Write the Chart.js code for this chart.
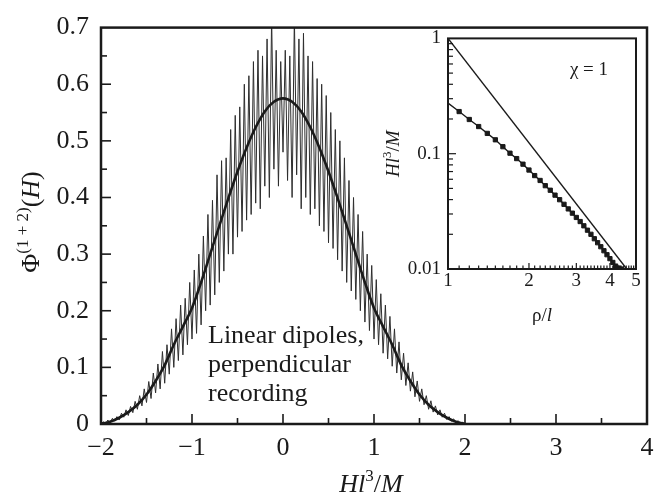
<!DOCTYPE html>
<html>
<head>
<meta charset="utf-8">
<script src="https://cdn.jsdelivr.net/npm/chart.js@4.4.1/dist/chart.umd.min.js"></script>
<style>
  body { margin: 0; background: #fff; }
  #wrap { position: relative; width: 669px; height: 497px; }
  #main { position: absolute; left: 0; top: 0; }
  #inset { position: absolute; left: 370px; top: 20px; }
</style>
</head>
<body>
<div id="wrap">
  <canvas id="main" width="669" height="497"></canvas>
  <canvas id="inset" width="290" height="310"></canvas>
</div>
<script>
// ---- main panel: Phi(1+2)(H) against H l^3 / M ----
const smoothH = [-2, -1.9, -1.8, -1.7, -1.6, -1.5, -1.4, -1.3, -1.2, -1.1, -1,
  -0.9, -0.8, -0.7, -0.6, -0.5, -0.4, -0.3, -0.2, -0.1, 0,
  0.1, 0.2, 0.3, 0.4, 0.5, 0.6, 0.7, 0.8, 0.9, 1,
  1.1, 1.2, 1.3, 1.4, 1.5, 1.6, 1.7, 1.8, 1.9, 2];
const smoothPhi = [0, 0.004, 0.011, 0.021, 0.034, 0.052, 0.076, 0.104, 0.140, 0.172, 0.205,
  0.250, 0.300, 0.350, 0.399, 0.446, 0.488, 0.524, 0.552, 0.569, 0.575,
  0.569, 0.552, 0.524, 0.488, 0.446, 0.399, 0.350, 0.300, 0.250, 0.205,
  0.172, 0.140, 0.104, 0.076, 0.052, 0.034, 0.021, 0.011, 0.004, 0];

// noisy simulated curve, sampled every 0.025 from H = -2
const noisyStart = -2;
const noisyStep = 0.025;
const noisyPhi = [
  0, 0.004, 0.000, 0.007, 0.002, 0.010, 0.005, 0.013, 0.007, 0.019,
  0.012, 0.025, 0.015, 0.031, 0.020, 0.040, 0.026, 0.050, 0.032, 0.062,
  0.038, 0.075, 0.045, 0.090, 0.055, 0.106, 0.062, 0.128, 0.072, 0.140,
  0.088, 0.168, 0.100, 0.186, 0.112, 0.210, 0.122, 0.222, 0.140, 0.250,
  0.150, 0.272, 0.160, 0.300, 0.175, 0.332, 0.200, 0.370, 0.210, 0.395,
  0.228, 0.440, 0.250, 0.465, 0.270, 0.470, 0.300, 0.520, 0.300, 0.545,
  0.330, 0.560, 0.340, 0.600, 0.360, 0.615, 0.370, 0.640, 0.390, 0.660,
  0.380, 0.650, 0.420, 0.680, 0.400, 0.720, 0.450, 0.660, 0.420, 0.640,
  0.480,
  0.660, 0.430, 0.650, 0.400, 0.720, 0.440, 0.680, 0.380, 0.690, 0.400,
  0.650, 0.370, 0.640, 0.380, 0.610, 0.350, 0.600, 0.340, 0.580, 0.320,
  0.550, 0.310, 0.520, 0.290, 0.500, 0.270, 0.470, 0.250, 0.430, 0.235,
  0.400, 0.220, 0.370, 0.200, 0.340, 0.180, 0.300, 0.165, 0.280, 0.150,
  0.255, 0.140, 0.230, 0.125, 0.210, 0.115, 0.190, 0.102, 0.168, 0.090,
  0.145, 0.078, 0.125, 0.068, 0.108, 0.058, 0.092, 0.048, 0.076, 0.040,
  0.062, 0.034, 0.050, 0.026, 0.041, 0.021, 0.032, 0.016, 0.025, 0.012,
  0.019, 0.008, 0.013, 0.005, 0.009, 0.002, 0.006, 0.001, 0.003, 0
];

const mainXLabels = [-2, -1, 0, 1, 2, 3, 4];
const mainYLabels = [0, 0.1, 0.2, 0.3, 0.4, 0.5, 0.6, 0.7];
const mainXTicks = [-1.5, -1, -0.5, 0, 0.5, 1, 1.5, 2, 2.5, 3, 3.5];
const mainYTicks = [0.05, 0.1, 0.15, 0.2, 0.25, 0.3, 0.35, 0.4, 0.45, 0.5, 0.55, 0.6, 0.65];
const noteLines = ['Linear dipoles,', 'perpendicular', 'recording'];

// ---- inset: H l^3 / M against rho / l (log-log), chi = 1 ----
const rho = [1.0, 1.1, 1.2, 1.3, 1.4, 1.5, 1.6, 1.7, 1.8, 1.9, 2.0, 2.1, 2.2, 2.3, 2.4, 2.5,
  2.6, 2.7, 2.8, 2.9, 3.0, 3.1, 3.2, 3.3, 3.4, 3.5, 3.6, 3.7, 3.8, 3.9, 4.0, 4.1, 4.2, 4.3, 4.4];
const hMarked = [0.275, 0.232, 0.198, 0.172, 0.150, 0.132, 0.115, 0.101, 0.0907, 0.0811, 0.0722,
  0.0646, 0.0586, 0.0528, 0.0482, 0.0437, 0.0399, 0.0364, 0.0332, 0.0305, 0.0280,
  0.0258, 0.0237, 0.0217, 0.0200, 0.0183, 0.0169, 0.0156, 0.0144, 0.0133, 0.0123,
  0.0114, 0.0106, 0.0102, 0.0100];
const rhoLine = [1, 4.62];
const hLine = [1, 0.01];
const insetXLabels = [1, 2, 3, 4, 5];
const insetYLabels = [0.01, 0.1, 1];

const INK = '#1a1a1a';
const SERIF = '"Liberation Serif", "DejaVu Serif", serif';

function drawRich(ctx, parts, x, y, angle) {
  ctx.save();
  ctx.translate(x, y);
  ctx.rotate(angle || 0);
  let w = 0;
  parts.forEach(p => { ctx.font = p[1]; w += ctx.measureText(p[0]).width; });
  let cx = -w / 2;
  ctx.textBaseline = 'alphabetic';
  ctx.fillStyle = INK;
  parts.forEach(p => {
    ctx.font = p[1];
    ctx.fillText(p[0], cx, p[2] || 0);
    cx += ctx.measureText(p[0]).width;
  });
  ctx.restore();
}

function tick(ctx, x1, y1, x2, y2) {
  ctx.beginPath();
  ctx.moveTo(x1, y1);
  ctx.lineTo(x2, y2);
  ctx.stroke();
}

// inward ticks, frame and texts of the main panel
const mainDecor = {
  id: 'mainDecor',
  afterDraw(chart) {
    const { ctx, chartArea: a, scales: { x, y } } = chart;
    ctx.save();
    ctx.strokeStyle = INK;
    ctx.lineWidth = 1.6;
    mainXTicks.forEach(v => {
      const px = x.getPixelForValue(v);
      const len = Number.isInteger(v) ? 10 : 6;
      tick(ctx, px, a.bottom, px, a.bottom - len);
    });
    mainYTicks.forEach(v => {
      const py = y.getPixelForValue(v);
      const len = Math.abs(v * 10 - Math.round(v * 10)) < 1e-6 ? 10 : 6;
      tick(ctx, a.left, py, a.left + len, py);
    });
    ctx.lineWidth = 2.5;
    ctx.strokeRect(a.left, a.top, a.right - a.left, a.bottom - a.top);

    ctx.font = '26px ' + SERIF;
    ctx.fillStyle = INK;
    ctx.textBaseline = 'alphabetic';
    noteLines.forEach((t, i) => ctx.fillText(t, 208, 343 + i * 29));

    drawRich(ctx, [
      ['H', 'italic 26px ' + SERIF],
      ['l', 'italic 26px ' + SERIF],
      ['3', '17px ' + SERIF, -11],
      ['/', '26px ' + SERIF],
      ['M', 'italic 26px ' + SERIF]
    ], (a.left + a.right) / 2 - 3, 492);

    drawRich(ctx, [
      ['\u03A6', '26px ' + SERIF],
      ['(1 + 2)', '17px ' + SERIF, -11],
      ['(', '26px ' + SERIF],
      ['H', 'italic 26px ' + SERIF],
      [')', '26px ' + SERIF]
    ], 39, 222, -Math.PI / 2);
    ctx.restore();
  }
};

new Chart(document.getElementById('main'), {
  type: 'scatter',
  data: {
    datasets: [{
      data: smoothH.map((h, i) => ({ x: h, y: smoothPhi[i] })),
      showLine: true,
      borderColor: INK,
      borderWidth: 2.6,
      pointRadius: 0,
      cubicInterpolationMode: 'monotone'
    }, {
      data: noisyPhi.map((v, i) => ({ x: noisyStart + i * noisyStep, y: v })),
      showLine: true,
      borderColor: '#2e2e2e',
      borderWidth: 1,
      pointRadius: 0
    }]
  },
  options: {
    responsive: false,
    animation: false,
    devicePixelRatio: 1,
    layout: { padding: { left: 0, top: 15, right: 22, bottom: 0 } },
    plugins: { legend: { display: false }, tooltip: { enabled: false } },
    scales: {
      x: {
        type: 'linear',
        min: -2,
        max: 4,
        afterBuildTicks: s => { s.ticks = mainXLabels.map(v => ({ value: v })); },
        afterFit: s => { s.height = 73; },
        grid: { display: false, drawTicks: false },
        border: { display: false },
        ticks: {
          padding: 9,
          color: INK,
          font: { family: SERIF, size: 26 },
          callback: v => String(v).replace('-', '\u2212')
        }
      },
      y: {
        min: 0,
        max: 0.7,
        afterBuildTicks: s => { s.ticks = mainYLabels.map(v => ({ value: v })); },
        afterFit: s => { s.width = 101; },
        grid: { display: false, drawTicks: false },
        border: { display: false },
        ticks: {
          padding: 12,
          color: INK,
          font: { family: SERIF, size: 26 },
          callback: v => (v === 0 ? '0' : v.toFixed(1))
        }
      }
    }
  },
  plugins: [mainDecor]
});

// inward ticks, frame and texts of the inset
const insetDecor = {
  id: 'insetDecor',
  afterDraw(chart) {
    const { ctx, chartArea: a, scales: { x, y } } = chart;
    ctx.save();
    ctx.strokeStyle = INK;
    ctx.lineWidth = 1.2;
    for (let d = 1; d < 5; d++) {
      for (let k = 0; k < 10; k++) {
        const v = d + k / 10;
        if (v <= 1) continue;
        const px = x.getPixelForValue(v);
        tick(ctx, px, a.bottom, px, a.bottom - (k === 0 ? 6 : 3.5));
      }
    }
    [0.01, 0.1].forEach(dec => {
      for (let k = 1; k < 10; k++) {
        const v = dec * k;
        if (k === 1 && dec === 0.01) continue;
        const py = y.getPixelForValue(v);
        tick(ctx, a.left, py, a.left + (k === 1 ? 8 : 5), py);
      }
    });
    ctx.lineWidth = 2;
    ctx.strokeRect(a.left, a.top, a.right - a.left, a.bottom - a.top);

    drawRich(ctx, [
      ['\u03C7 = 1', '19px ' + SERIF]
    ], 219, 55);
    drawRich(ctx, [
      ['\u03C1/', '19px ' + SERIF],
      ['l', 'italic 19px ' + SERIF]
    ], (a.left + a.right) / 2, 301);
    drawRich(ctx, [
      ['H', 'italic 19px ' + SERIF],
      ['l', 'italic 19px ' + SERIF],
      ['3', '13px ' + SERIF, -8],
      ['/', '19px ' + SERIF],
      ['M', 'italic 19px ' + SERIF]
    ], 29, (a.top + a.bottom) / 2, -Math.PI / 2);
    ctx.restore();
  }
};

new Chart(document.getElementById('inset'), {
  type: 'scatter',
  data: {
    datasets: [{
      data: rhoLine.map((r, i) => ({ x: r, y: hLine[i] })),
      showLine: true,
      borderColor: INK,
      borderWidth: 1.4,
      pointRadius: 0
    }, {
      data: rho.map((r, i) => ({ x: r, y: hMarked[i] })),
      showLine: true,
      borderColor: INK,
      borderWidth: 1.4,
      pointStyle: 'rect',
      pointRadius: rho.map((r, i) => (i === 0 ? 0 : 3)),
      pointBackgroundColor: INK,
      pointBorderColor: INK,
      pointBorderWidth: 1
    }]
  },
  options: {
    responsive: false,
    animation: false,
    devicePixelRatio: 1,
    layout: { padding: { left: 0, top: 14, right: 24, bottom: 0 } },
    plugins: { legend: { display: false }, tooltip: { enabled: false } },
    scales: {
      x: {
        type: 'logarithmic',
        min: 1,
        max: 5,
        afterBuildTicks: s => { s.ticks = insetXLabels.map(v => ({ value: v })); },
        afterFit: s => { s.height = 61; },
        grid: { display: false, drawTicks: false },
        border: { display: false },
        ticks: {
          padding: 1,
          color: INK,
          font: { family: SERIF, size: 19 },
          callback: v => String(v)
        }
      },
      y: {
        type: 'logarithmic',
        min: 0.01,
        max: 1,
        afterBuildTicks: s => { s.ticks = insetYLabels.map(v => ({ value: v })); },
        afterFit: s => { s.width = 78; },
        grid: { display: false, drawTicks: false },
        border: { display: false },
        ticks: {
          padding: 7,
          color: INK,
          font: { family: SERIF, size: 19 },
          callback: v => (v === 1 ? '1' : v === 0.1 ? '0.1' : '0.01')
        }
      }
    }
  },
  plugins: [insetDecor]
});
</script>
</body>
</html>
